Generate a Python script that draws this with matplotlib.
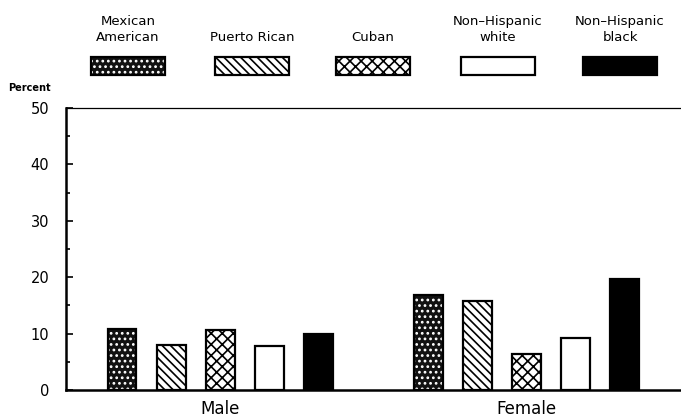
import matplotlib
matplotlib.use("Agg")
import matplotlib.pyplot as plt
from matplotlib.patches import Rectangle
import numpy as np

groups = ["Male", "Female"]
series = ["Mexican\nAmerican", "Puerto Rican", "Cuban", "Non\u2013Hispanic\nwhite", "Non\u2013Hispanic\nblack"]
male = [10.8, 8.0, 10.6, 7.8, 9.9]
female = [16.8, 15.7, 6.4, 9.2, 19.6]
yticks = [0, 10, 20, 30, 40, 50]

plt.rcParams['font.family'] = ['DejaVu Sans']
plt.rcParams['hatch.linewidth'] = 1.2

styles = [
    dict(face="#111111", hatch="...", hcol="white"),
    dict(face="white", hatch="\\\\\\\\", hcol="black"),
    dict(face="white", hatch="xxx", hcol="black"),
    dict(face="white", hatch=None, hcol="black"),
    dict(face="black", hatch=None, hcol="black"),
]

fig = plt.figure(figsize=(6.81, 4.18), dpi=100)
ax = fig.add_axes([66/681, 1-390/418, (680-66)/681, (390-108)/418])

group_gap = 6.24
width = 0.59
data = [male, female]
for g, vals in enumerate(data):
    for i, v in enumerate(vals):
        x = g * group_gap + i
        st = styles[i]
        ax.bar(x, v, width, color=st["face"], edgecolor=st["hcol"], hatch=st["hatch"], linewidth=0, zorder=2)
        ax.bar(x, v, width, fill=False, edgecolor="black", linewidth=1.6, zorder=3)

ax.set_xlim(-1.14, group_gap + 4 + 1.12)
ax.set_ylim(0, 50)
ax.set_yticks(yticks)
ax.set_yticks(np.arange(5, 50, 10), minor=True)
ax.tick_params(axis='y', which='major', direction='in', length=5, width=1.2, pad=12, labelsize=10.5)
ax.tick_params(axis='y', which='minor', direction='in', length=3, width=1.2)
ax.set_xticks([2, group_gap + 2])
ax.set_xticklabels(groups, fontsize=12)
ax.tick_params(axis='x', length=0, pad=7)
for s in ['left', 'bottom']:
    ax.spines[s].set_linewidth(1.8)
ax.spines['top'].set_linewidth(0.9)
ax.spines['right'].set_visible(False)

fig.text(8/681, 1-88/418, "Percent", fontsize=7, fontweight='bold', va='center', ha='left')

# legend
centers = [128, 252, 373, 498, 620]
for i, (c, lab) in enumerate(zip(centers, series)):
    st = styles[i]
    w, h = 74, 18
    x0 = (c - w/2) / 681
    y0 = 1 - 75/418
    fig.add_artist(Rectangle((x0, y0), w/681, h/418, transform=fig.transFigure,
                             facecolor=st["face"], edgecolor=st["hcol"], hatch=st["hatch"], linewidth=0))
    fig.add_artist(Rectangle((x0, y0), w/681, h/418, transform=fig.transFigure,
                             fill=False, edgecolor="black", linewidth=1.6))
    fig.text(c/681, 1-44/418, lab, fontsize=9.5, ha='center', va='bottom', linespacing=1.3)

fig.savefig("out.png", dpi=100)
